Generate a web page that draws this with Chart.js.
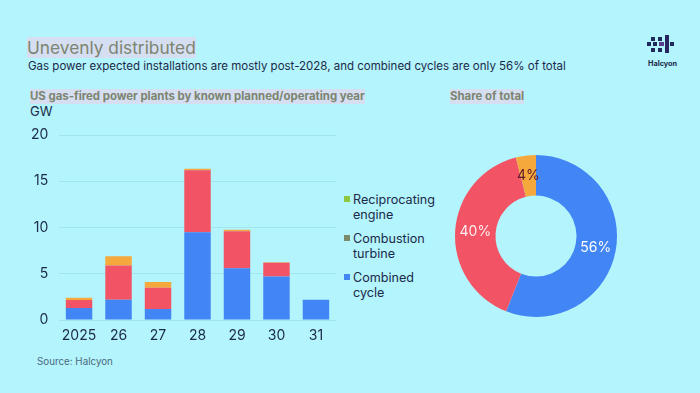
<!DOCTYPE html>
<html lang="en">
<head>
  <meta charset="UTF-8">
  <title>Unevenly distributed</title>
  <script src="https://cdn.jsdelivr.net/npm/chart.js"></script>
  <style>
    body {
      margin: 0;
      width: 700px;
      height: 393px;
      background-color: #b4f4fc;
      font-family: Inter, "Noto Sans", sans-serif;
      color: #1b2a4a;
      position: relative;
      overflow: hidden;
    }
    .abs { position: absolute; white-space: nowrap; }
    .title {
      left: 27px; top: 37px;
      font-size: 17.3px;
      color: #7b8570;
      background-color: #d6def2;
      line-height: 21px;
    }
    .subtitle { left: 28px; top: 59px; font-size: 11.5px; }
    .panel-title {
      font-size: 11.4px;
      font-weight: bold;
      color: #7b8570;
      background-color: #d6def2;
      line-height: 15px;
    }
    .unit { left: 30px; top: 103px; font-size: 13px; }
    .source { left: 37px; top: 356px; font-size: 9.8px; color: #4a6a80; }
    .legend { left: 344px; top: 192px; font-size: 12.6px; line-height: 15px; }
    .legend-item { position: relative; padding-left: 9px; margin-bottom: 9px; }
    .legend-box { position: absolute; left: 0; top: 4px; width: 6px; height: 6px; }
    .logo-text { left: 648px; top: 59px; font-size: 7.3px; font-weight: bold; }
    #barWrap { position: absolute; left: 0; top: 120px; width: 340px; height: 235px; }
    #donutWrap { position: absolute; left: 436px; top: 136px; width: 200px; height: 200px; }
  </style>
</head>
<body>
  <div class="abs title">Unevenly distributed</div>
  <div class="abs subtitle">Gas power expected installations are mostly post-2028, and combined cycles are only 56% of total</div>
  <div class="abs panel-title" style="left:30px; top:89px;">US gas-fired power plants by known planned/operating year</div>
  <div class="abs panel-title" style="left:450px; top:89px;">Share of total</div>
  <div class="abs unit">GW</div>

  <svg class="abs" style="left:647px; top:35px;" width="32" height="20">
    <rect x="4" y="2" width="4" height="4" fill="#1f2a5c"/>
    <rect x="11" y="2" width="4" height="4" fill="#1f2a5c"/>
    <rect x="18" y="0" width="4" height="18" fill="#2a2460"/>
    <rect x="0" y="7" width="4" height="4" fill="#1f2a5c"/>
    <rect x="6" y="7" width="4" height="4" fill="#1f2a5c"/>
    <rect x="12" y="7" width="5" height="4" fill="#5a3a8a"/>
    <rect x="23" y="7" width="4" height="4" fill="#1f2a5c"/>
    <rect x="4" y="13" width="4" height="4" fill="#1f2a5c"/>
    <rect x="11" y="13" width="4" height="4" fill="#1f2a5c"/>
  </svg>
  <div class="abs logo-text">Halcyon</div>

  <div id="barWrap"><canvas id="barChart"></canvas></div>
  <div id="donutWrap"><canvas id="donutChart"></canvas></div>

  <div class="abs legend" id="legend"></div>
  <div class="abs source">Source: Halcyon</div>

  <script>
    // data (GW)
    const years = ['2025', '26', '27', '28', '29', '30', '31'];
    const combinedCycle = [1.3, 2.2, 1.2, 9.5, 5.6, 4.7, 2.2];
    const combustionTurbine = [0.85, 3.7, 2.3, 6.7, 4.0, 1.5, 0];
    const reciprocatingEngine = [0.25, 1.0, 0.6, 0.15, 0.15, 0.05, 0];

    const shareLabels = ['Combined cycle', 'Combustion turbine', 'Reciprocating engine'];
    const shareValues = [56, 40, 4];

    const legendNames = [['Reciprocating', 'engine'], ['Combustion', 'turbine'], ['Combined', 'cycle']];
    const legendColors = ['#8dc63f', '#7d8a6a', '#4285f4'];

    const blue = '#4285f4';
    const red = '#f25465';
    const orange = '#f5a83b';
    const textColor = '#1b2a4a';
    Chart.defaults.font.family = 'Inter, "Noto Sans", sans-serif';
    Chart.defaults.color = textColor;

    // legend (html, multi-line labels)
    const legendEl = document.getElementById('legend');
    legendNames.forEach((name, i) => {
      const item = document.createElement('div');
      item.className = 'legend-item';
      item.innerHTML = '<span class="legend-box" style="background:' + legendColors[i] + '"></span>' + name.join('<br>');
      legendEl.appendChild(item);
    });

    new Chart(document.getElementById('barChart'), {
      type: 'bar',
      data: {
        labels: years,
        datasets: [
          { label: 'Combined cycle', data: combinedCycle, backgroundColor: blue },
          { label: 'Combustion turbine', data: combustionTurbine, backgroundColor: red },
          { label: 'Reciprocating engine', data: reciprocatingEngine, backgroundColor: orange }
        ]
      },
      options: {
        responsive: true,
        maintainAspectRatio: false,
        animation: false,
        barPercentage: 0.67,
        categoryPercentage: 1,
        layout: { padding: { top: 15, right: 4.3, left: 0, bottom: 0 } },
        plugins: { legend: { display: false }, tooltip: { enabled: false } },
        scales: {
          x: {
            stacked: true,
            grid: { display: false, drawTicks: false },
            border: { display: false },
            ticks: { font: { size: 14 }, padding: 7, color: textColor, maxRotation: 0, autoSkip: false },
            afterFit: (scale) => { scale.height = 35; }
          },
          y: {
            stacked: true,
            min: 0,
            max: 20,
            ticks: { stepSize: 5, font: { size: 14 }, padding: 11, color: textColor },
            grid: { color: 'rgba(120, 200, 205, 0.3)', drawTicks: false },
            border: { display: false },
            afterFit: (scale) => {
              scale.width = 59.3;
              scale.paddingTop = 0;
              scale.paddingBottom = 0;
            }
          }
        }
      }
    });

    // percentage labels drawn in the middle of each ring segment
    const sliceLabels = {
      id: 'sliceLabels',
      afterDatasetsDraw(chart) {
        const ctx = chart.ctx;
        const colors = ['#ffffff', '#fdeef0', '#5e1a2c'];
        chart.getDatasetMeta(0).data.forEach((arc, i) => {
          const pos = arc.tooltipPosition();
          ctx.save();
          ctx.font = '14px Inter, "Noto Sans", sans-serif';
          ctx.fillStyle = colors[i];
          ctx.textAlign = 'center';
          ctx.textBaseline = 'middle';
          ctx.fillText(shareValues[i] + '%', pos.x, pos.y);
          ctx.restore();
        });
      }
    };

    new Chart(document.getElementById('donutChart'), {
      type: 'doughnut',
      data: {
        labels: shareLabels,
        datasets: [{
          data: shareValues,
          backgroundColor: [blue, red, orange],
          borderWidth: 0
        }]
      },
      options: {
        responsive: true,
        maintainAspectRatio: false,
        animation: false,
        cutout: '50%',
        layout: { padding: 19 },
        plugins: { legend: { display: false }, tooltip: { enabled: false } }
      },
      plugins: [sliceLabels]
    });
  </script>
</body>
</html>
